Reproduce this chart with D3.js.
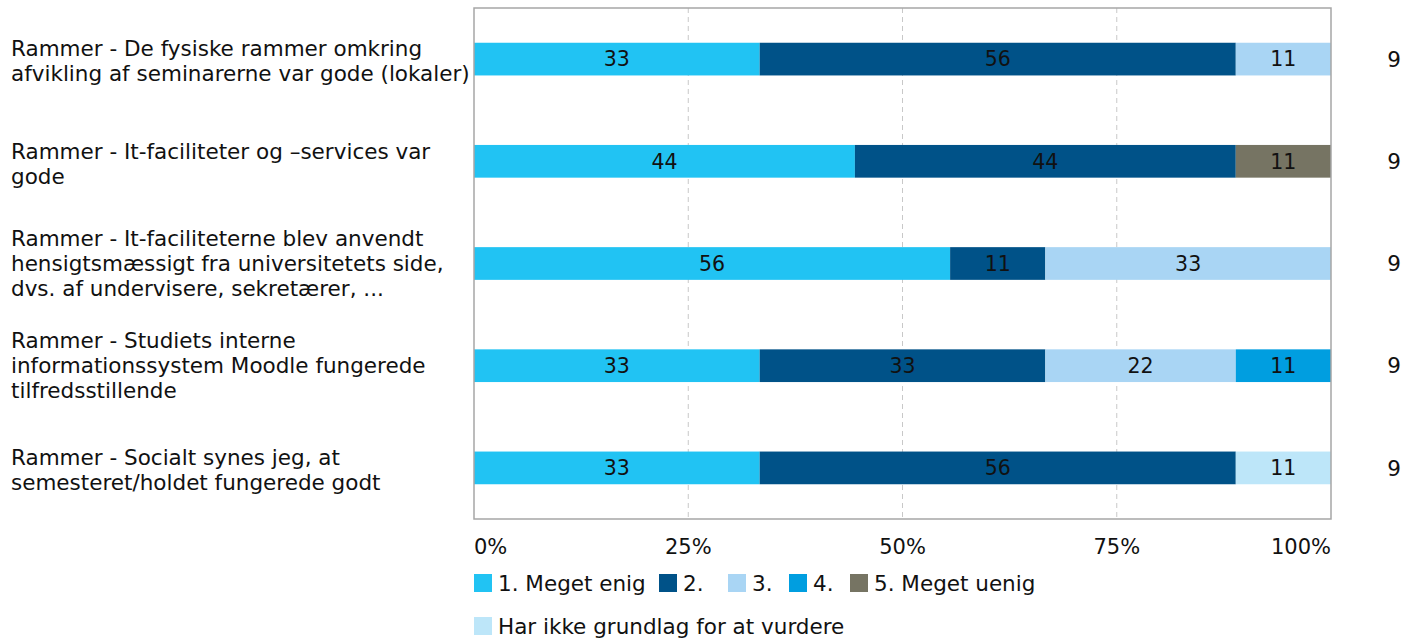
<!DOCTYPE html>
<html>
<head>
<meta charset="utf-8">
<script src="https://cdn.jsdelivr.net/npm/d3@7"></script>
<style>
  body { margin: 0; background: #fff; }
  text { font-family: "DejaVu Sans", Verdana, sans-serif; }
</style>
</head>
<body>
<div id="chart"></div>
<script>
// DATA (respondent counts per answer, n = 9)
var questions = [
  ["Rammer - De fysiske rammer omkring", "afvikling af seminarerne var gode (lokaler)"],
  ["Rammer - It-faciliteter og \u2013services var", "gode"],
  ["Rammer - It-faciliteterne blev anvendt", "hensigtsm\u00e6ssigt fra universitetets side,", "dvs. af undervisere, sekret\u00e6rer, ..."],
  ["Rammer - Studiets interne", "informationssystem Moodle fungerede", "tilfredsstillende"],
  ["Rammer - Socialt synes jeg, at", "semesteret/holdet fungerede godt"]
];
var answers = ["1. Meget enig", "2.", "3.", "4.", "5. Meget uenig", "Har ikke grundlag for at vurdere"];
var colors = ["#21c3f3", "#005288", "#a9d5f4", "#009ee0", "#767463", "#bde6f9"];
var enig     = [3, 4, 5, 3, 3];
var to       = [5, 4, 1, 3, 5];
var tre      = [1, 0, 3, 2, 0];
var fire     = [0, 0, 0, 1, 0];
var uenig    = [0, 1, 0, 0, 0];
var ikke     = [0, 0, 0, 0, 1];
var totals   = [9, 9, 9, 9, 9];
var ticks = [0, 0.25, 0.5, 0.75, 1];

var series = [enig, to, tre, fire, uenig, ikke];

var width = 1406, height = 639;
var plotLeft = 474, plotRight = 1331, plotTop = 8, plotBottom = 519;

var svg = d3.select("#chart").append("svg")
  .attr("width", width)
  .attr("height", height);

var x = d3.scaleLinear().domain([0, 1]).range([plotLeft, plotRight]);
var y = d3.scaleBand().domain(d3.range(questions.length)).range([plotTop, plotBottom]).paddingInner(0.68).paddingOuter(0.34);

// grid
svg.selectAll("line.grid")
  .data(ticks.slice(1, -1))
  .enter().append("line")
  .attr("class", "grid")
  .attr("x1", function(d) { return x(d); })
  .attr("x2", function(d) { return x(d); })
  .attr("y1", plotTop).attr("y2", plotBottom)
  .attr("stroke", "#c8c8c8")
  .attr("stroke-dasharray", "5,4");

// stacked segments
var rows = questions.map(function(q, i) {
  var acc = 0, segs = [];
  series.forEach(function(s, k) {
    var v = s[i] / totals[i];
    segs.push({ row: i, k: k, x0: acc, x1: acc + v, val: Math.round(v * 100) });
    acc += v;
  });
  return segs;
});
var segs = [].concat.apply([], rows).filter(function(d) { return d.x1 > d.x0; });

svg.selectAll("rect.seg")
  .data(segs)
  .enter().append("rect")
  .attr("class", "seg")
  .attr("x", function(d) { return x(d.x0); })
  .attr("width", function(d) { return x(d.x1) - x(d.x0); })
  .attr("y", function(d) { return y(d.row); })
  .attr("height", y.bandwidth())
  .attr("fill", function(d) { return colors[d.k]; });

svg.selectAll("text.val")
  .data(segs)
  .enter().append("text")
  .attr("class", "val")
  .attr("x", function(d) { return (x(d.x0) + x(d.x1)) / 2; })
  .attr("y", function(d) { return y(d.row) + y.bandwidth() / 2; })
  .attr("dy", "0.36em")
  .attr("text-anchor", "middle")
  .attr("font-size", 20.5)
  .attr("fill", "#111")
  .text(function(d) { return d.val; });

// frame
svg.append("rect")
  .attr("x", plotLeft).attr("y", plotTop)
  .attr("width", plotRight - plotLeft).attr("height", plotBottom - plotTop)
  .attr("fill", "none")
  .attr("stroke", "#a6a6a6")
  .attr("stroke-width", 1.5);

// question labels
questions.forEach(function(q, i) {
  var cy = y(i) + y.bandwidth() / 2;
  var lh = 25;
  var t = svg.append("text")
    .attr("x", 11)
    .attr("font-size", 21.5)
    .attr("fill", "#111");
  q.forEach(function(line, j) {
    t.append("tspan")
      .attr("x", 11)
      .attr("y", cy + (j - (q.length - 1) / 2) * lh + (q.length == 2 ? 2 : 0))
      .attr("dy", "0.36em")
      .text(line);
  });
});

// n column
svg.selectAll("text.n")
  .data(totals)
  .enter().append("text")
  .attr("class", "n")
  .attr("x", 1394)
  .attr("y", function(d, i) { return y(i) + y.bandwidth() / 2; })
  .attr("dy", "0.36em")
  .attr("text-anchor", "middle")
  .attr("font-size", 21.5)
  .attr("fill", "#111")
  .text(function(d) { return d; });

// x tick labels
svg.selectAll("text.tick")
  .data(ticks)
  .enter().append("text")
  .attr("class", "tick")
  .attr("x", function(d) { return x(d); })
  .attr("y", 554)
  .attr("text-anchor", function(d, i) { return i == 0 ? "start" : (i == ticks.length - 1 ? "end" : "middle"); })
  .attr("font-size", 21)
  .attr("fill", "#111")
  .text(function(d) { return d3.format(".0%")(d); });

// legend
var legendPos = [[474, 583], [659, 583], [728, 583], [789, 583], [850, 583], [474, 626]];
answers.forEach(function(a, k) {
  var g = svg.append("g").attr("transform", "translate(" + legendPos[k][0] + "," + legendPos[k][1] + ")");
  g.append("rect").attr("x", 0).attr("y", -9).attr("width", 18).attr("height", 18).attr("fill", colors[k]);
  g.append("text").attr("x", 24).attr("dy", "0.36em").attr("font-size", 21.5).attr("fill", "#111").text(a);
});
</script>
</body>
</html>
